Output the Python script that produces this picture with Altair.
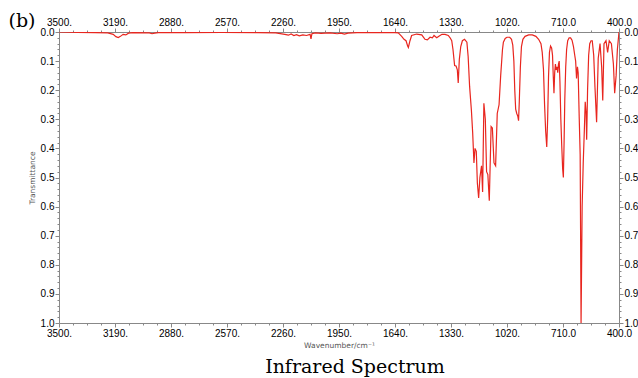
import altair as alt
import pandas as pd

# Spectrum (wavenumber in cm^-1, transmittance axis value)
wavenumber = [
    3500, 3400, 3300, 3230, 3200, 3185, 3172, 3160, 3145, 3130, 3115, 3090,
    3000, 2985, 2970, 2950, 2800, 2600, 2400, 2300, 2250, 2230, 2215, 2200,
    2185, 2170, 2150, 2130, 2110, 2105, 2100, 2080, 2050, 2000, 1960, 1940,
    1920, 1900, 1850, 1700, 1640, 1622, 1603, 1590, 1579, 1570, 1566, 1557,
    1548, 1520, 1492, 1474, 1461, 1446, 1433, 1424, 1409, 1395, 1380, 1363,
    1345, 1335, 1326, 1319, 1310, 1302, 1295, 1290, 1284, 1276, 1267, 1255,
    1242, 1235, 1227, 1217, 1210, 1203, 1197, 1190, 1184, 1177, 1170, 1161,
    1155, 1148, 1140, 1133, 1126, 1118, 1108, 1101, 1092, 1083, 1074, 1064,
    1055, 1045, 1040, 1030, 1020, 1005, 995, 988, 982, 977, 972, 966,
    960, 956, 952, 946, 940, 932, 920, 900, 880, 860, 845, 832,
    825, 818, 812, 806, 800, 795, 790, 785, 779, 773, 768, 764,
    760, 756, 752, 748, 743, 739, 735, 731, 727, 722, 717, 712,
    708, 704, 700, 695, 690, 684, 676, 668, 660, 652, 645, 640,
    635, 630, 626, 620, 615, 610, 604, 598, 592, 587, 582, 579,
    574, 568, 562, 555, 548, 540, 533, 524, 515, 505, 496, 490,
    483, 472, 463, 454, 442, 431, 424, 416, 409, 400,
]
transmittance = [
    0.000, 0.001, 0.002, 0.003, 0.008, 0.016, 0.019, 0.015, 0.008, 0.010, 0.004, 0.002,
    0.003, 0.006, 0.004, 0.002, 0.002, 0.001, 0.002, 0.003, 0.008, 0.011, 0.007, 0.012,
    0.009, 0.013, 0.010, 0.012, 0.008, 0.024, 0.006, 0.003, 0.005, 0.003, 0.006, 0.004,
    0.007, 0.004, 0.002, 0.002, 0.002, 0.003, 0.015, 0.025, 0.030, 0.048, 0.053, 0.030,
    0.012, 0.007, 0.010, 0.025, 0.027, 0.018, 0.020, 0.012, 0.020, 0.014, 0.008, 0.008,
    0.012, 0.020, 0.030, 0.060, 0.115, 0.117, 0.130, 0.175, 0.095, 0.050, 0.030, 0.025,
    0.035, 0.085, 0.187, 0.270, 0.346, 0.450, 0.400, 0.410, 0.520, 0.570, 0.500, 0.460,
    0.550, 0.245, 0.300, 0.480, 0.490, 0.580, 0.325, 0.330, 0.450, 0.460, 0.280, 0.250,
    0.150, 0.060, 0.035, 0.022, 0.018, 0.018, 0.025, 0.045, 0.100, 0.200, 0.265, 0.280,
    0.290, 0.305, 0.240, 0.120, 0.050, 0.025, 0.015, 0.010, 0.010, 0.015, 0.025, 0.040,
    0.070, 0.130, 0.250, 0.340, 0.395, 0.300, 0.150, 0.070, 0.048, 0.055, 0.080, 0.150,
    0.210, 0.140, 0.110, 0.130, 0.120, 0.140, 0.110, 0.100, 0.170, 0.300, 0.390, 0.470,
    0.500, 0.380, 0.230, 0.120, 0.060, 0.030, 0.020, 0.020, 0.028, 0.050, 0.080, 0.100,
    0.160, 0.120, 0.140, 0.300, 0.420, 1.000, 0.600, 0.450, 0.340, 0.240, 0.280, 0.370,
    0.200, 0.080, 0.040, 0.030, 0.030, 0.080, 0.190, 0.310, 0.090, 0.040, 0.120, 0.235,
    0.040, 0.030, 0.070, 0.030, 0.040, 0.110, 0.210, 0.150, 0.060, 0.000,
]

x_major_ticks = [3500, 3190, 2880, 2570, 2260, 1950, 1640, 1330, 1020, 710, 400]
x_tick_labels = ["3500.", "3190.", "2880.", "2570.", "2260.", "1950.",
                 "1640.", "1330.", "1020.", "710.0", "400.0"]
y_major_ticks = [0.0, 0.1, 0.2, 0.3, 0.4, 0.5, 0.6, 0.7, 0.8, 0.9, 1.0]
y_tick_labels = ["0.0", "0.1", "0.2", "0.3", "0.4", "0.5",
                 "0.6", "0.7", "0.8", "0.9", "1.0"]

# minor ticks: 4 subdivisions on x, 5 on y
x_ticks = []
for a, b in zip(x_major_ticks[:-1], x_major_ticks[1:]):
    step = (a - b) / 4
    x_ticks += [a - step * i for i in range(4)]
x_ticks.append(x_major_ticks[-1])
y_ticks = [k / 50 for k in range(51)]

df = pd.DataFrame({"wn": wavenumber, "t": transmittance})

x_label_map = "{" + ",".join(f"'{v}':'{l}'" for v, l in zip(x_major_ticks, x_tick_labels)) + "}"
y_label_map = "{" + ",".join(f"'{round(v*10)}':'{l}'" for v, l in zip(y_major_ticks, y_tick_labels)) + "}"
x_major_test = "(3500 - datum.value) % 310 == 0"
y_major_test = "round(datum.value * 50) % 5 == 0"
x_label_expr = f"{x_major_test} ? {x_label_map}[''+datum.value] : ''"
y_label_expr = f"{y_major_test} ? {y_label_map}[''+round(datum.value*10)] : ''"

FONT = "DejaVu Sans"
LABEL_COLOR = "#555555"


def x_axis(orient, title):
    return alt.Axis(
        orient=orient, values=x_ticks, labelExpr=x_label_expr, title=title,
        tickSize={"condition": {"test": x_major_test, "value": 4}, "value": 2},
        labelOverlap=False, labelFlush=False, labelPadding=1, grid=False,
        titleFont=FONT, titleFontSize=7.5, titleFontWeight="normal",
        titleColor=LABEL_COLOR, titlePadding=3,
    )


def y_axis(orient, title):
    return alt.Axis(
        orient=orient, values=y_ticks, labelExpr=y_label_expr, title=title,
        tickSize={"condition": {"test": y_major_test, "value": 4}, "value": 2},
        labelOverlap=False, labelFlush=False, labelPadding=1, grid=False,
        titleFont=FONT, titleFontSize=7.5, titleFontWeight="normal",
        titleColor=LABEL_COLOR, titlePadding=4,
    )


xscale = alt.Scale(domain=[400, 3500], reverse=True, nice=False, zero=False)
yscale = alt.Scale(domain=[0, 1], reverse=True, nice=False, zero=False)

line = alt.Chart(df).mark_line(color="#e8261f", strokeWidth=1.2, clip=True).encode(
    x=alt.X("wn:Q", scale=xscale, axis=x_axis("bottom", "Wavenumber/cm⁻¹")),
    y=alt.Y("t:Q", scale=yscale, axis=y_axis("left", "Transmittance")),
    order=alt.Order("idx:Q"),
).transform_window(idx="row_number()")

mirror = alt.Chart(df).mark_line(opacity=0).encode(
    x=alt.X("wn:Q", scale=xscale, axis=x_axis("top", None)),
    y=alt.Y("t:Q", scale=yscale, axis=y_axis("right", None)),
)

panel_tag = alt.Chart(pd.DataFrame({"tag": ["(b)"]})).mark_text(
    font="DejaVu Serif", fontSize=19, color="black", align="center", baseline="middle"
).encode(text="tag:N", x=alt.value(-37), y=alt.value(-11))

chart = alt.layer(line, mirror, panel_tag).resolve_axis(
    x="independent", y="independent"
).properties(
    width=560, height=291,
    autosize=alt.AutoSizeParams(type="none"),
    padding={"left": 59, "top": 32, "right": 19, "bottom": 55},
    title=alt.TitleParams(
        "Infrared Spectrum", orient="bottom", anchor="middle", dx=16, offset=9,
        font="DejaVu Serif", fontSize=19, fontWeight="normal", color="black",
    ),
).configure_axis(
    labelFont=FONT, labelFontSize=8, labelColor=LABEL_COLOR,
    domainColor="#000000", domainWidth=1, tickColor="#000000", tickWidth=1,
).configure_view(strokeOpacity=0).configure(background="white")

chart.save("out.html", embed_options={"renderer": "svg", "actions": False})
